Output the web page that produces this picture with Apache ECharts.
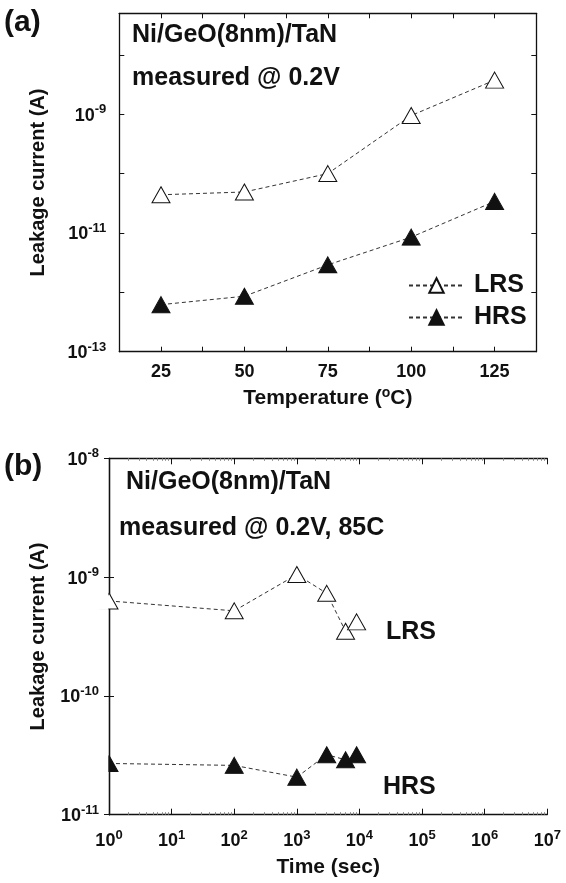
<!DOCTYPE html>
<html>
<head>
<meta charset="utf-8">
<script src="https://cdn.jsdelivr.net/npm/echarts@6/dist/echarts.min.js"></script>
<style>
  html, body { margin: 0; padding: 0; background: #fff; }
  #chart { width: 566px; height: 883px; }
</style>
</head>
<body>
<div id="chart"></div>
<script>
// (a) leakage vs temperature
const tempC = [25, 50, 75, 100, 125]
const lrsTemp = [4.4e-11, 4.9e-11, 1.0e-10, 9.5e-10, 3.75e-9]
const hrsTemp = [6.2e-13, 8.6e-13, 2.9e-12, 8.5e-12, 3.4e-11]

// (b) leakage vs time at 85C
const timeSec = [1, 100, 1000, 3000, 6000, 9000]
const lrsTime = [6.3e-10, 5.2e-10, 1.05e-9, 7.3e-10, 3.5e-10, 4.2e-10]
const hrsTime = [2.7e-11, 2.6e-11, 2.07e-11, 3.2e-11, 2.9e-11, 3.2e-11]

const FONT = 'Liberation Sans, Arial, sans-serif'
const INK = '#111'

const rich = {
  b: { fontSize: 18, fontWeight: 'bold', fontFamily: FONT, color: INK },
  sup: { fontSize: 13, fontWeight: 'bold', fontFamily: FONT, color: INK, padding: [0, 0, 12, 0] }
}
const pow10 = (v) => '{b|10}{sup|' + v + '}'

const toLog = (xs, ys, logX) => xs.map((x, i) => [logX ? Math.log10(x) : x, Math.log10(ys[i])])

// log minor tick positions for the time axis
const minorLog = []
for (let k = 0; k < 7; k++) for (let m = 2; m < 10; m++) minorLog.push(k + Math.log10(m))

const line = { color: '#333', width: 1, type: [4, 3] }
const openTri = { color: '#fff', borderColor: '#111', borderWidth: 1 }
const fullTri = { color: '#111', borderColor: '#111', borderWidth: 1 }
const axisLine = { show: true, lineStyle: { color: INK, width: 1.3 } }
const tick = { show: true, inside: true, length: 5, lineStyle: { color: INK, width: 1 } }
const nameStyle = (size) => ({ fontSize: size, fontWeight: 'bold', fontFamily: FONT, color: INK })

function mirror(axis) {
  return { ...axis, axisLabel: { show: false }, name: '' }
}

const xA = {
  type: 'value', gridIndex: 0, position: 'bottom',
  min: 12.5, max: 137.5, interval: 12.5,
  axisLine, axisTick: tick, splitLine: { show: false },
  axisLabel: {
    margin: 11, fontSize: 18, fontWeight: 'bold', fontFamily: FONT, color: INK,
    formatter: (v) => (v % 25 === 0 ? String(v) : '')
  },
  name: 'Temperature ({sup|o}C)', nameLocation: 'middle', nameGap: 34,
  nameTextStyle: { ...nameStyle(21),
    rich: { sup: { ...nameStyle(14), padding: [0, 0, 11, 0] } } }
}
const yA = {
  type: 'value', gridIndex: 0, position: 'left',
  min: -13, max: -7.3, interval: 1,
  axisLine, axisTick: tick, splitLine: { show: false },
  axisLabel: { margin: 13, padding: [3, 0, 0, 0], rich, formatter: (v) => (Math.abs(v % 2) === 1 ? pow10(v) : '') },
  name: 'Leakage current (A)', nameLocation: 'middle', nameGap: 71,
  nameTextStyle: nameStyle(20)
}
const xB = {
  type: 'value', gridIndex: 1, position: 'bottom',
  min: 0, max: 7, interval: 1,
  axisLine, axisTick: { ...tick, length: 6 }, splitLine: { show: false },
  axisLabel: { margin: 14, rich, formatter: (v) => pow10(v) },
  name: 'Time (sec)', nameLocation: 'middle', nameGap: 42,
  nameTextStyle: nameStyle(21)
}
const yB = {
  type: 'value', gridIndex: 1, position: 'left',
  min: -11, max: -8, interval: 1,
  axisLine, axisTick: tick, splitLine: { show: false },
  axisLabel: { margin: 10, padding: [3, 0, 0, 0], rich, formatter: (v) => pow10(v) },
  name: 'Leakage current (A)', nameLocation: 'middle', nameGap: 61,
  nameTextStyle: nameStyle(20)
}
const minorB = (position) => ({
  type: 'value', gridIndex: 1, position, min: 0, max: 7,
  axisLine: { show: false }, axisLabel: { show: false }, splitLine: { show: false },
  axisTick: { show: true, inside: true, length: 2.5, customValues: minorLog, lineStyle: { color: '#888', width: 1 } }
})

const chart = echarts.init(document.getElementById('chart'), null, { renderer: 'canvas' })

const bigText = (text, left, top, size) => ({
  type: 'text', left, top,
  style: { text, font: 'bold ' + size + 'px ' + FONT, fill: INK }
})
const texts = [
  bigText('(a)', 4, 8, 30),
  bigText('(b)', 4, 452, 30),
  bigText('Ni/GeO(8nm)/TaN', 132, 23, 25),
  bigText('measured @ 0.2V', 132, 66, 25),
  bigText('Ni/GeO(8nm)/TaN', 126, 470, 25),
  bigText('measured @ 0.2V, 85C', 119, 516, 25),
  bigText('LRS', 386, 620, 25),
  bigText('HRS', 383, 775, 25)
]

chart.setOption({
  animation: false,
  backgroundColor: '#fff',
  grid: [
    { left: 119.3, top: 13.3, width: 417, height: 338.4 },
    { left: 109, top: 458.3, width: 438.3, height: 356.4 }
  ],
  xAxis: [xA, { ...mirror(xA), position: 'top' }, xB, { ...mirror(xB), position: 'top' },
    minorB('bottom'), minorB('top')],
  yAxis: [yA, { ...mirror(yA), position: 'right' }, yB, { ...mirror(yB), position: 'right' }],
  legend: {
    data: ['LRS', 'HRS'],
    orient: 'vertical', left: 408, top: 273, padding: 0,
    itemWidth: 55, itemHeight: 18, itemGap: 7,
    textStyle: { fontSize: 25, fontWeight: 'bold', fontFamily: FONT, color: INK, lineHeight: 25, padding: [0, 0, 0, 5] }
  },
  series: [
    { name: 'LRS', type: 'line', xAxisIndex: 0, yAxisIndex: 0, data: toLog(tempC, lrsTemp, false),
      symbol: 'triangle', symbolSize: [18, 16], lineStyle: line, itemStyle: openTri },
    { name: 'HRS', type: 'line', xAxisIndex: 0, yAxisIndex: 0, data: toLog(tempC, hrsTemp, false),
      symbol: 'triangle', symbolSize: [18, 16], lineStyle: line, itemStyle: fullTri },
    { name: 'LRS 85C', type: 'line', xAxisIndex: 2, yAxisIndex: 2, data: toLog(timeSec, lrsTime, true),
      symbol: 'triangle', symbolSize: [18, 16], lineStyle: line, itemStyle: openTri },
    { name: 'HRS 85C', type: 'line', xAxisIndex: 2, yAxisIndex: 2, data: toLog(timeSec, hrsTime, true),
      symbol: 'triangle', symbolSize: [18, 16], lineStyle: line, itemStyle: fullTri }
  ],
  graphic: texts
})

// the reference clips symbols sitting on the left frame of (b): hide their outer half
const covers = [lrsTime[0], hrsTime[0]].map((v) => {
  const p = chart.convertToPixel({ xAxisIndex: 2, yAxisIndex: 2 }, [Math.log10(timeSec[0]), Math.log10(v)])
  return {
    type: 'rect', z: 100,
    shape: { x: p[0] - 11, y: p[1] - 9, width: 10.3, height: 18 },
    style: { fill: '#fff' }
  }
})
chart.setOption({ graphic: [...texts, ...covers] })

window.addEventListener('resize', () => chart.resize())
</script>
</body>
</html>
